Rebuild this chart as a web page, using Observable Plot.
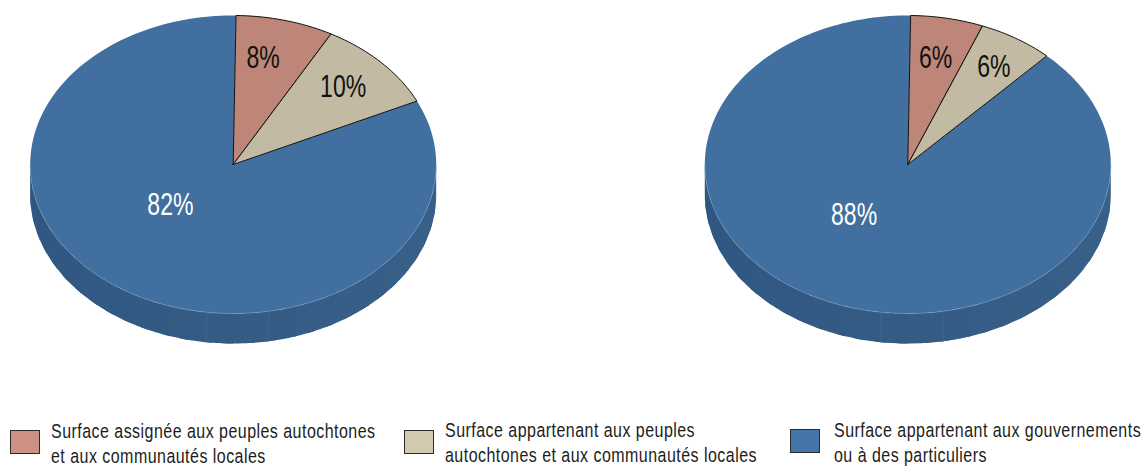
<!DOCTYPE html>
<html lang="fr">
<head>
<meta charset="utf-8">
<script src="https://cdn.jsdelivr.net/npm/d3@7"></script>
<script src="https://cdn.jsdelivr.net/npm/@observablehq/plot@0.6"></script>
<style>
  html, body { margin: 0; padding: 0; background: #fff; overflow: hidden; }
  #page { position: relative; width: 1146px; height: 466px; font-family: "Liberation Sans", sans-serif; }
  #chart { position: absolute; left: 0; top: 0; }
  .swatch { position: absolute; width: 28px; height: 22px; border: 1px solid #2b2b2b; }
  /* The captions use a condensed setting of the sans face */
  .caption { position: absolute; white-space: nowrap; font-size: 20.5px; line-height: 25px; color: #1d1d1b;
             letter-spacing: 0.6px; transform: scaleX(0.78); transform-origin: 0 0; }
</style>
</head>
<body>
<div id="page"><div id="chart"></div></div>
<script>
// Land tenure shares, left and right pies
const categories = ["assignee", "appartenant", "gouvernement"];
const leftShares = [8, 10, 82];
const rightShares = [6, 6, 88];
const legendLabels = [
  ["Surface assignée aux peuples autochtones", "et aux communautés locales"],
  ["Surface appartenant aux peuples", "autochtones et aux communautés locales"],
  ["Surface appartenant aux gouvernements", "ou à des particuliers"]
];
const sliceColors = ["#bd8678", "#c2baa3", "#416f9f"];
const swatchColors = ["#cc9182", "#d3c9b0", "#4474a8"];
const labelColors = ["#111", "#111", "#fff"];

// Layout: one scale unit is a pie radius, squashed vertically for the tilt
const width = 1146, height = 400;
const radiusX = 203, radiusY = 149, centerX = 232.7, centerY = 164, wallDepth = 30 / radiusY;
const pieOffsets = [0, 674.6 / radiusX];
const firstEdgeLean = 0.8;

// Label placement per pie and slice: radial distance and extra turn from the slice's middle
const labelRadius = [[0.733, 0.753, 0.41], [0.731, 0.783, 0.43]];
const labelTurn = [[-2.8, -0.8, 16.6], [0, 0.4, 16.4]];

const rim = (angle, offset, dy = 0) => {
  const t = (angle * Math.PI) / 180;
  return { x: offset + Math.sin(t), y: Math.cos(t) - dy };
};
const arcPoints = (a0, a1, offset, dy = 0) => {
  const n = Math.max(2, Math.ceil(Math.abs(a1 - a0) / 1.5));
  return d3.range(n + 1).map(i => rim(a0 + ((a1 - a0) * i) / n, offset, dy));
};

const slices = [], labels = [];
[leftShares, rightShares].forEach((shares, p) => {
  const offset = pieOffsets[p];
  let cum = 0;
  shares.forEach((share, i) => {
    const mid0 = cum * 3.6;
    // The opening edge leans slightly past twelve o'clock
    const a0 = cum === 0 ? firstEdgeLean : mid0;
    cum += share;
    const mid1 = cum * 3.6;
    const a1 = cum === 100 ? 360 + firstEdgeLean : mid1;
    const pts = [{ x: offset, y: 0 }, ...arcPoints(a0, a1, offset), { x: offset, y: 0 }];
    pts.forEach(q => slices.push({ ...q, key: `${p}-${i}`, category: categories[i] }));
    const t = (((mid0 + mid1) / 2 + labelTurn[p][i]) * Math.PI) / 180;
    labels.push({
      x: offset + labelRadius[p][i] * Math.sin(t),
      y: labelRadius[p][i] * Math.cos(t),
      text: `${share}%`,
      color: labelColors[i]
    });
  });
});

// Outer wall: panels shading from darker left to lighter right; each overlaps the next
// one so that no antialiased gap shows between them
const wallPanels = [];
const wallShade = d3.interpolateRgb("#3a6189", "#2f5680");
const wallStep = 6, wallOverlap = 3;
pieOffsets.forEach((offset, p) => {
  d3.range(90, 270, wallStep).forEach((a, k) => {
    const a1 = Math.min(270, a + wallStep + wallOverlap);
    const top = arcPoints(a, a1, offset);
    const bottom = arcPoints(a1, a, offset, wallDepth);
    const fill = wallShade((a + wallStep / 2 - 90) / 180);
    [...top, ...bottom, top[0]].forEach(q => wallPanels.push({ ...q, key: `${p}-${k}`, fill }));
  });
});

// Two faint seams on the wall near its lowest point
const seamAngles = [170, 187.6];
const seams = pieOffsets.flatMap((offset, p) =>
  seamAngles.flatMap((a, k) => [
    { ...rim(a, offset), key: `${p}-${k}` },
    { ...rim(a, offset, wallDepth), key: `${p}-${k}` }
  ])
);

const rimLine = pieOffsets.flatMap((offset, p) =>
  arcPoints(90, 270, offset).map(q => ({ ...q, key: p }))
);

const chart = Plot.plot({
  width, height,
  margin: 0,
  x: { axis: null, domain: [-centerX / radiusX, (width - centerX) / radiusX], range: [0, width] },
  y: { axis: null, domain: [(centerY - height) / radiusY, centerY / radiusY], range: [height, 0] },
  color: { domain: categories, range: sliceColors },
  marks: [
    Plot.line(wallPanels, { x: "x", y: "y", z: "key", fill: d => d.fill, stroke: "none" }),
    Plot.line(seams, { x: "x", y: "y", z: "key", stroke: "#44709b", strokeWidth: 0.6 }),
    Plot.line(slices.filter(d => d.category === categories[2]), { x: "x", y: "y", z: "key", fill: "category", stroke: "none" }),
    Plot.line(rimLine, { x: "x", y: "y", z: "key", stroke: "#7ba1c6", strokeWidth: 0.6, strokeDasharray: "3,1" }),
    Plot.line(slices.filter(d => d.category !== categories[2]), { x: "x", y: "y", z: "key", fill: "category", stroke: "#111", strokeWidth: 1 }),
    Plot.text(labels, { x: "x", y: "y", text: "text", fill: d => d.color, fontSize: 32, fontFamily: "Liberation Sans" })
  ]
});
// Condense the percentage labels about their own centres
d3.select(chart).selectAll("text").each(function () {
  this.setAttribute("transform", `${this.getAttribute("transform") || ""} scale(0.72,1)`);
});
document.getElementById("chart").append(chart);

// Legend below the pies
const page = document.getElementById("page");
const legendSwatchX = [10, 404, 790], legendTextX = [51, 445, 834], legendTop = [430, 430, 429], legendTextTop = [418, 417, 417];
legendLabels.forEach((lines, i) => {
  const sw = document.createElement("div");
  sw.className = "swatch";
  sw.style.left = legendSwatchX[i] + "px";
  sw.style.top = legendTop[i] + "px";
  sw.style.background = swatchColors[i];
  page.append(sw);
  const cap = document.createElement("div");
  cap.className = "caption";
  cap.style.left = legendTextX[i] + "px";
  cap.style.top = legendTextTop[i] + "px";
  cap.innerHTML = lines.join("<br>");
  page.append(cap);
});
</script>
</body>
</html>
